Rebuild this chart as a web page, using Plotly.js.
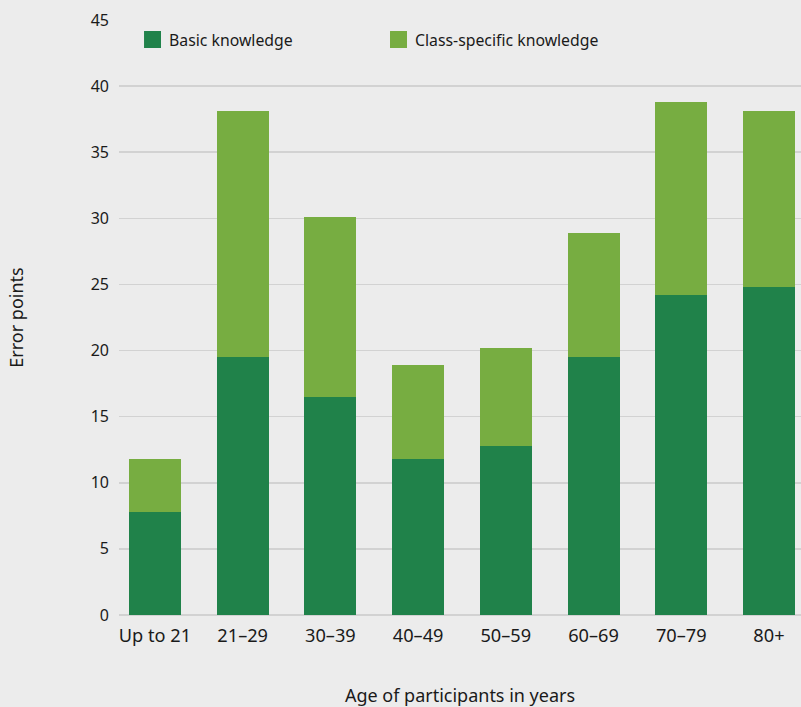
<!DOCTYPE html>
<html>
<head>
<meta charset="utf-8">
<script src="https://cdn.plot.ly/plotly-3.0.1.min.js"></script>
<style>
html,body{margin:0;padding:0;background:#ececec;}
#chart{width:801px;height:707px;}
</style>
</head>
<body>
<div id="chart"></div>
<script>
const categories = ["Up to 21", "21–29", "30–39", "40–49", "50–59", "60–69", "70–79", "80+"];
const basicKnowledge = [7.8, 19.5, 16.5, 11.8, 12.8, 19.5, 24.2, 24.8];
const classSpecific = [4.0, 18.6, 13.6, 7.1, 7.4, 9.4, 14.6, 13.3];
const seriesNames = ["Basic knowledge", "Class-specific knowledge"];
const seriesColors = ["#20824a", "#77ad41"];
const yTicks = [0, 5, 10, 15, 20, 25, 30, 35, 40, 45];

const font = "'Noto Sans', 'Open Sans', sans-serif";
const textColor = "#1a1a1a";

const traces = [
  {type: "bar", x: categories, y: basicKnowledge, name: seriesNames[0],
   marker: {color: seriesColors[0]}, width: 0.593, hoverinfo: "y+name"},
  {type: "bar", x: categories, y: classSpecific, name: seriesNames[1],
   marker: {color: seriesColors[1]}, width: 0.593, hoverinfo: "y+name"}
];

// manual legend (larger swatches than Plotly's built-in legend)
const legendX = [0.0367, 0.3974];
const swW = 0.0249;
const shapes = seriesNames.map((n, i) => ({
  type: "rect", xref: "paper", yref: "paper",
  x0: legendX[i], x1: legendX[i] + swW, y0: 0.9529, y1: 0.9815,
  fillcolor: seriesColors[i], line: {width: 0}
}));
const annotations = seriesNames.map((n, i) => ({
  xref: "paper", yref: "paper", x: legendX[i] + swW + 0.0095, y: 0.967,
  xanchor: "left", yanchor: "middle", showarrow: false, text: n,
  font: {family: font, size: 15.8, color: textColor}
}));

const layout = {
  width: 801, height: 707,
  margin: {l: 119, r: 0, t: 20, b: 92},
  paper_bgcolor: "#ececec", plot_bgcolor: "#ececec",
  barmode: "stack",
  showlegend: false,
  font: {family: font, color: textColor},
  xaxis: {
    type: "category", range: [-0.41, 7.365],
    showgrid: false, zeroline: false, showline: false, ticks: "",
    tickfont: {family: font, size: 18.2, color: textColor},
    ticklabelstandoff: 8,
    title: {text: "Age of participants in years", font: {family: font, size: 18, color: textColor}, standoff: 46}
  },
  yaxis: {
    range: [0, 45], tickvals: yTicks, ticktext: yTicks.map(String),
    showgrid: true, gridcolor: "#d2d2d2", gridwidth: 1.5,
    zeroline: true, zerolinecolor: "#d2d2d2", zerolinewidth: 1.5,
    showline: false, ticks: "",
    tickfont: {family: font, size: 16, color: textColor},
    ticklabelstandoff: 9,
    title: {text: "Error points", font: {family: font, size: 18, color: textColor}, standoff: 62}
  },
  shapes: shapes,
  annotations: annotations
};

Plotly.newPlot("chart", traces, layout, {displayModeBar: false, staticPlot: true});
</script>
</body>
</html>
